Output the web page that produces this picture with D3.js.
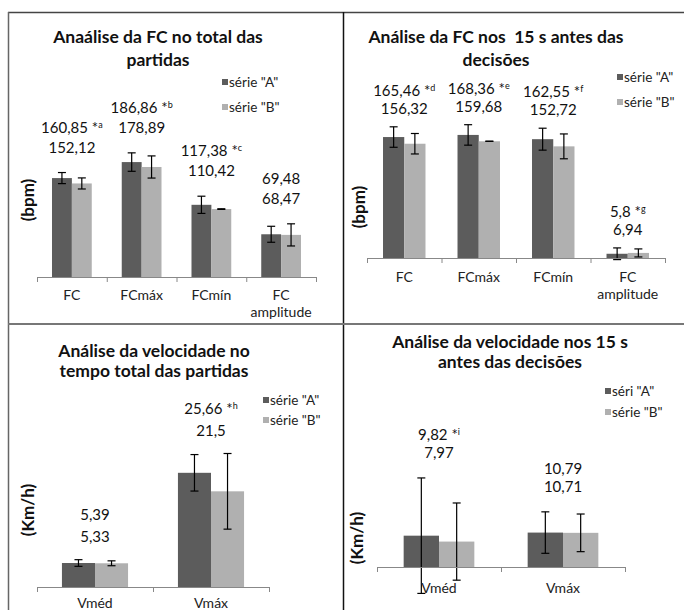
<!DOCTYPE html>
<html>
<head>
<meta charset="utf-8">
<script src="https://cdn.jsdelivr.net/npm/d3@7"></script>
<style>
  body { margin: 0; background: #fff; }
  svg { font-family: Lato, "Open Sans", sans-serif; }
</style>
</head>
<body>
<svg id="Vis" width="684" height="610"></svg>
<script>
/* DATA */
const fcCats = ["FC", "FCmáx", "FCmín", "FC amplitude"];
const velCats = ["Vméd", "Vmáx"];

// FC over the whole match
const fcTotalA = [160.85, 186.86, 117.38, 69.48];
const fcTotalB = [152.12, 178.89, 110.42, 68.47];
const fcTotalErrA = [9, 15, 14, 13];
const fcTotalErrB = [9, 18, 0.5, 18];
const fcTotalMarks = ["a", "b", "c", ""];

// FC in the 15 s before decisions
const fc15A = [165.46, 168.36, 162.55, 5.8];
const fc15B = [156.32, 159.68, 152.72, 6.94];
const fc15ErrA = [14, 14, 15, 8];
const fc15ErrB = [14, 0, 17, 5.5];
const fc15Marks = ["d", "e", "f", "g"];

// speed over the whole match
const velTotalA = [5.39, 25.66];
const velTotalB = [5.33, 21.5];
const velTotalErrA = [0.75, 4.1];
const velTotalErrB = [0.55, 8.5];
const velTotalMarks = ["", "h"];

// speed in the 15 s before decisions
const vel15A = [9.82, 10.79];
const vel15B = [7.97, 10.71];
const vel15ErrA = [18.1, 6.5];
const vel15ErrB = [12.1, 5.9];
const vel15Marks = ["i", ""];

const colors = ["#5c5c5c", "#b0b0b0"];

const svg = d3.select("svg#Vis");

/* FRAME */
const frame = svg.append("g").attr("id", "frame");
frame.append("line").attr("x1", 8).attr("x2", 684).attr("y1", 12.5).attr("y2", 12.5)
  .attr("stroke", "#444").attr("stroke-width", 1.5);
frame.append("line").attr("x1", 8.5).attr("x2", 8.5).attr("y1", 12).attr("y2", 610)
  .attr("stroke", "#666").attr("stroke-width", 1.5);
frame.append("line").attr("x1", 343.5).attr("x2", 343.5).attr("y1", 12).attr("y2", 610)
  .attr("stroke", "#111").attr("stroke-width", 1.5);
frame.append("line").attr("x1", 8).attr("x2", 684).attr("y1", 324).attr("y2", 324)
  .attr("stroke", "#777").attr("stroke-width", 2);

/* PANELS */
const panels = [
  {
    title: ["Anaálise da FC no total das", "partidas"],
    cats: fcCats, a: fcTotalA, b: fcTotalB, errA: fcTotalErrA, errB: fcTotalErrB, marks: fcTotalMarks,
    legend: ['série "A"', 'série "B"'], yLabel: "(bpm)", yMax: 200,
    x: [37, 316], base: 277, top: 154,
    titleX: 158, titleY: [43, 66], legendX: 222, legendY: [82, 107],
    yLabelPos: [28, 200], gap: 20, step: 20, catDy: 23
  },
  {
    title: ["Análise da FC nos  15 s antes das", "decisões"],
    cats: fcCats, a: fc15A, b: fc15B, errA: fc15ErrA, errB: fc15ErrB, marks: fc15Marks,
    legend: ['série "A"', 'série "B"'], yLabel: "(bpm)", yMax: 200,
    x: [367, 665], base: 258, top: 111.8,
    titleX: 496, titleY: [43, 66], legendX: 617, legendY: [77, 102],
    yLabelPos: [359, 207], gap: 13, step: 18, catDy: 24
  },
  {
    title: ["Análise da velocidade no", "tempo total das partidas"],
    cats: velCats, a: velTotalA, b: velTotalB, errA: velTotalErrA, errB: velTotalErrB, marks: velTotalMarks,
    legend: ['série "A"', 'série "B"'], yLabel: "(Km/h)", yMax: 30,
    x: [37, 269], base: 587, top: 453.5,
    titleX: 154, titleY: [357, 377], legendX: 263, legendY: [400, 420],
    yLabelPos: [28, 510], gap: 18, step: 22, catDy: 21
  },
  {
    title: ["Análise da velocidade nos 15 s", "antes das decisões"],
    cats: velCats, a: vel15A, b: vel15B, errA: vel15ErrA, errB: vel15ErrB, marks: vel15Marks,
    legend: ['séri "A"', 'série "B"'], yLabel: "(Km/h)", yMax: 30,
    x: [377, 625], base: 567, top: 471.3,
    titleX: 510, titleY: [348, 368], legendX: 605, legendY: [391, 412],
    yLabelPos: [357, 538], gap: 20, step: 18, catDy: 26
  }
];

panels.forEach(drawPanel);

function fmt(v) {
  return String(v).replace(".", ",");
}

function drawPanel(p, i) {
  const g = svg.append("g").attr("id", "panel" + i);

  const xScale = d3.scaleBand()
    .domain(p.cats)
    .range(p.x)
    .paddingInner(0.43)
    .paddingOuter(0.215);

  const sScale = d3.scaleBand()
    .domain([0, 1])
    .range([0, xScale.bandwidth()]);

  const yScale = d3.scaleLinear()
    .domain([0, p.yMax])
    .range([p.base, p.top]);

  const rows = p.cats.map((c, k) => ({
    cat: c,
    vals: [
      { s: 0, v: p.a[k], e: p.errA[k] },
      { s: 1, v: p.b[k], e: p.errB[k] }
    ],
    mark: p.marks[k]
  }));

  /* BARS */
  const groups = g.selectAll("g.cat")
    .data(rows)
    .enter()
    .append("g")
      .attr("class", "cat")
      .attr("transform", d => translate(xScale(d.cat), 0));

  groups.selectAll("rect")
    .data(d => d.vals)
    .enter()
    .append("rect")
      .attr("x", d => sScale(d.s))
      .attr("y", d => yScale(d.v))
      .attr("width", sScale.bandwidth())
      .attr("height", d => yScale(0) - yScale(d.v))
      .style("fill", d => colors[d.s]);

  /* ERROR BARS */
  const err = groups.selectAll("g.err")
    .data(d => d.vals)
    .enter()
    .append("g")
      .attr("class", "err")
      .attr("stroke", "#000")
      .attr("stroke-width", 1.2);

  const cx = d => sScale(d.s) + sScale.bandwidth() / 2;
  err.append("line")
    .attr("x1", cx).attr("x2", cx)
    .attr("y1", d => yScale(d.v + d.e)).attr("y2", d => yScale(d.v - d.e));
  err.append("line")
    .attr("x1", d => cx(d) - 4).attr("x2", d => cx(d) + 4)
    .attr("y1", d => yScale(d.v + d.e)).attr("y2", d => yScale(d.v + d.e));
  err.append("line")
    .attr("x1", d => cx(d) - 4).attr("x2", d => cx(d) + 4)
    .attr("y1", d => yScale(d.v - d.e)).attr("y2", d => yScale(d.v - d.e));

  /* VALUE LABELS */
  groups.each(function(d) {
    const grp = d3.select(this);
    const mid = xScale.bandwidth() / 2;
    const topY = Math.min(...d.vals.map(v => yScale(v.v + v.e)));
    const y2 = topY - p.gap;
    const y1 = y2 - p.step;

    const t1 = grp.append("text")
      .attr("x", mid)
      .attr("y", y1)
      .attr("text-anchor", "middle")
      .style("font-size", "15px")
      .style("fill", "#111")
      .text(fmt(d.vals[0].v));
    if (d.mark) {
      t1.append("tspan").text(" *");
      t1.append("tspan").attr("dy", -5).style("font-size", "9px").text(d.mark);
    }

    grp.append("text")
      .attr("x", mid)
      .attr("y", y2)
      .attr("text-anchor", "middle")
      .style("font-size", "15px")
      .style("fill", "#111")
      .text(fmt(d.vals[1].v));
  });

  /* AXIS */
  const tickScale = d3.scaleLinear().domain([0, p.cats.length]).range(p.x);
  const axis = d3.axisBottom(tickScale)
    .ticks(p.cats.length)
    .tickFormat("")
    .tickSize(5)
    .tickSizeOuter(0);
  const axisG = g.append("g")
    .attr("transform", translate(0, p.base))
    .call(axis);
  axisG.selectAll("path, line").attr("stroke", "#888");

  /* CATEGORY LABELS */
  const catText = g.selectAll("text.cat")
    .data(p.cats)
    .enter()
    .append("text")
      .attr("class", "cat")
      .attr("text-anchor", "middle")
      .attr("y", p.base + p.catDy)
      .style("font-size", "14px")
      .style("fill", "#222");
  catText.each(function(c) {
    const parts = c.split(" ");
    const t = d3.select(this);
    parts.forEach((w, k) => {
      t.append("tspan")
        .attr("x", xScale(c) + xScale.bandwidth() / 2)
        .attr("dy", k === 0 ? 0 : 17)
        .text(w);
    });
  });

  /* TITLE */
  g.selectAll("text.title")
    .data(p.title)
    .enter()
    .append("text")
      .attr("class", "title")
      .attr("x", p.titleX)
      .attr("y", (d, k) => p.titleY[k])
      .attr("text-anchor", "middle")
      .style("font-size", "17.5px")
      .style("font-weight", "bold")
      .style("white-space", "pre")
      .style("fill", "#111")
      .text(d => d);

  /* Y LABEL */
  g.append("text")
    .attr("transform", translate(p.yLabelPos[0], p.yLabelPos[1]) + " rotate(-90)")
    .attr("text-anchor", "middle")
    .attr("dy", "0.35em")
    .style("font-size", "17px")
    .style("font-weight", "bold")
    .style("fill", "#111")
    .text(p.yLabel);

  /* LEGEND */
  const leg = g.selectAll("g.legend")
    .data(p.legend)
    .enter()
    .append("g")
      .attr("class", "legend")
      .attr("transform", (d, k) => translate(p.legendX, p.legendY[k]));
  leg.append("rect")
    .attr("x", 0).attr("y", -3)
    .attr("width", 6).attr("height", 6)
    .style("fill", (d, k) => colors[k]);
  leg.append("text")
    .attr("x", 7)
    .attr("y", 4.5)
    .style("font-size", "13.5px")
    .style("fill", "#222")
    .text(d => d);
}

function translate(x, y) {
  return "translate(" + String(x) + "," + String(y) + ")";
}
</script>
</body>
</html>
